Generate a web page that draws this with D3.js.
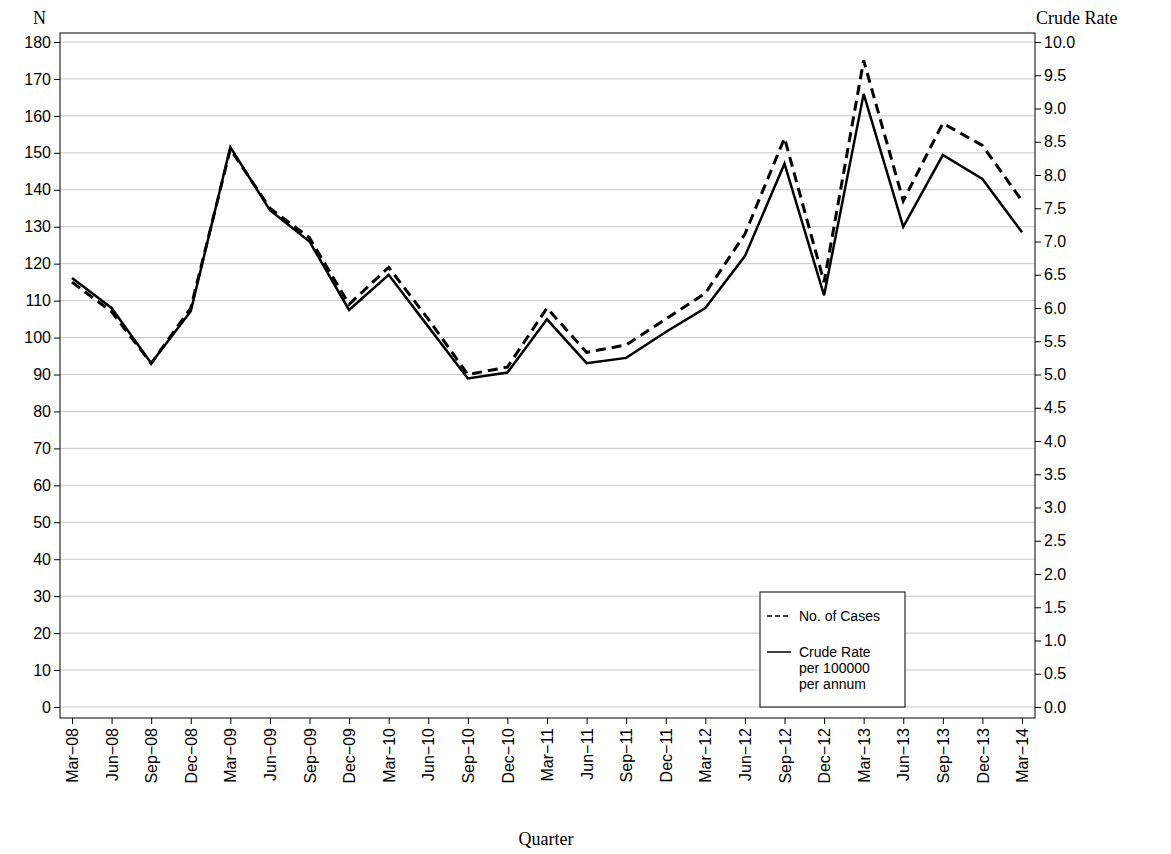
<!DOCTYPE html>
<html><head><meta charset="utf-8">
<script src="https://cdn.jsdelivr.net/npm/d3@7"></script>
<style>body{margin:0;background:#fff}</style>
</head><body>
<script>
var quarters = ['Mar\u221208','Jun\u221208','Sep\u221208','Dec\u221208','Mar\u221209','Jun\u221209','Sep\u221209','Dec\u221209','Mar\u221210','Jun\u221210','Sep\u221210','Dec\u221210','Mar\u221211','Jun\u221211','Sep\u221211','Dec\u221211','Mar\u221212','Jun\u221212','Sep\u221212','Dec\u221212','Mar\u221213','Jun\u221213','Sep\u221213','Dec\u221213','Mar\u221214'];
var cases = [115,107,93,108,151,135,127,109,119,105,90,92,108,96,98,105,112,128,154,115,175,137,158,152,137];
var rates = [6.45,6.0,5.17,5.95,8.42,7.47,7.0,5.97,6.5,5.72,4.94,5.03,5.83,5.17,5.25,5.64,6.0,6.78,8.17,6.19,9.22,7.22,8.3,7.94,7.14];
var leftTicks = d3.range(0, 181, 10);
var rightTicks = d3.range(0, 10.01, 0.5);

var W = 1171, H = 854;
var L = 60, R = 1035, T = 33, B = 718;
var svg = d3.select('body').append('svg').attr('width', W).attr('height', H);

var x = d3.scalePoint().domain(quarters).range([72, 1022]);
var y = d3.scaleLinear().domain([0, 180]).range([707, 42]);
var y2 = d3.scaleLinear().domain([0, 10]).range([707, 42]);

svg.selectAll('.grid').data(leftTicks).enter().append('line')
  .attr('x1', L).attr('x2', R)
  .attr('y1', function(d) { return y(d) }).attr('y2', function(d) { return y(d) })
  .attr('stroke', '#c8c8c8').attr('stroke-width', 1);

var ax1 = svg.append('g').attr('transform', 'translate(' + L + ',0)')
  .call(d3.axisLeft(y).tickValues(leftTicks).tickSize(6).tickSizeOuter(0));
var ax2 = svg.append('g').attr('transform', 'translate(' + R + ',0)')
  .call(d3.axisRight(y2).tickValues(rightTicks).tickFormat(d3.format('.1f')).tickSize(6).tickSizeOuter(0));
var ax3 = svg.append('g').attr('transform', 'translate(0,' + B + ')')
  .call(d3.axisBottom(x).tickSize(6).tickSizeOuter(0));
ax3.selectAll('text').attr('transform', 'rotate(-90)').attr('text-anchor', 'end')
  .attr('x', -10).attr('y', 0).attr('dy', '0.35em');
[ax1, ax2, ax3].forEach(function(a) {
  a.select('.domain').remove();
  a.selectAll('text').attr('font-family', 'Liberation Sans, Arial, sans-serif').attr('font-size', 16).attr('fill', '#000');
  a.selectAll('line').attr('stroke', '#000');
});

svg.append('rect').attr('x', L).attr('y', T).attr('width', R - L).attr('height', B - T)
  .attr('fill', 'none').attr('stroke', '#000');

var lineCases = d3.line().x(function(d, i) { return x(quarters[i]) }).y(function(d) { return y(d) });
var lineRates = d3.line().x(function(d, i) { return x(quarters[i]) }).y(function(d) { return y2(d) });
svg.append('path').attr('d', lineCases(cases)).attr('fill', 'none').attr('stroke', '#000')
  .attr('stroke-width', 3).attr('stroke-dasharray', '10,6');
svg.append('path').attr('d', lineRates(rates)).attr('fill', 'none').attr('stroke', '#000').attr('stroke-width', 2.5);

var serif = 'Liberation Serif, Times New Roman, serif';
svg.append('text').attr('x', 33).attr('y', 24).text('N').attr('font-family', serif).attr('font-size', 18);
svg.append('text').attr('x', 1036).attr('y', 24).text('Crude Rate').attr('font-family', serif).attr('font-size', 18);
svg.append('text').attr('x', 546).attr('y', 845).attr('text-anchor', 'middle').text('Quarter').attr('font-family', serif).attr('font-size', 18);

var lg = svg.append('g');
lg.append('rect').attr('x', 760).attr('y', 592).attr('width', 145).attr('height', 115)
  .attr('fill', '#fff').attr('stroke', '#000');
lg.append('line').attr('x1', 767).attr('x2', 791).attr('y1', 616).attr('y2', 616)
  .attr('stroke', '#000').attr('stroke-width', 1.5).attr('stroke-dasharray', '5,3');
lg.append('line').attr('x1', 767).attr('x2', 791).attr('y1', 652).attr('y2', 652)
  .attr('stroke', '#000').attr('stroke-width', 1.5);
var lf = 'Liberation Sans, Arial, sans-serif';
lg.append('text').attr('x', 799).attr('y', 621).text('No. of Cases').attr('font-family', lf).attr('font-size', 14);
['Crude Rate', 'per 100000', 'per annum'].forEach(function(t, i) {
  lg.append('text').attr('x', 799).attr('y', 657 + i * 16).text(t).attr('font-family', lf).attr('font-size', 14);
});
</script>
</body></html>
